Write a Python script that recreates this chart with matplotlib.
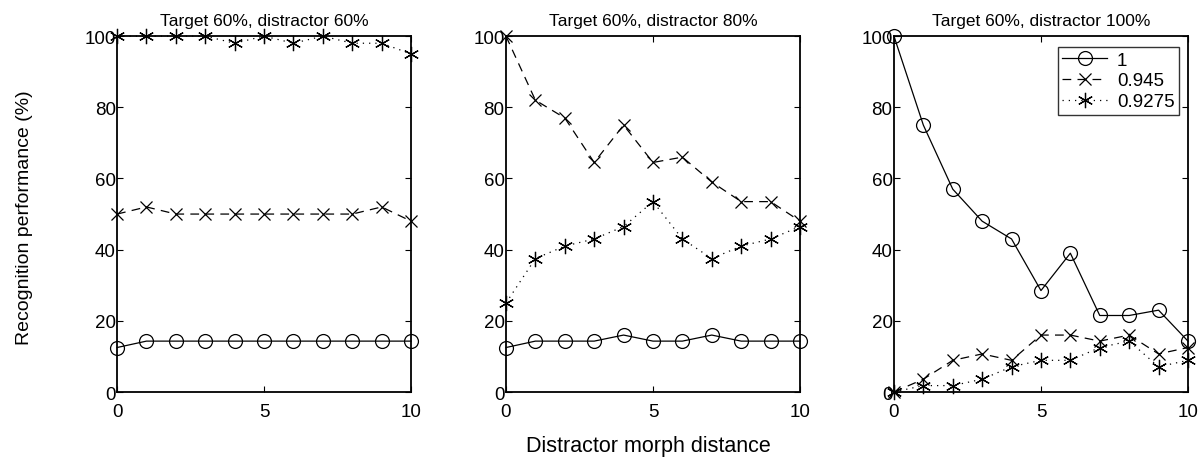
#!/usr/bin/env python3

# Recognition performance vs distractor morph distance, three panels

import matplotlib
matplotlib.use("Agg")
import matplotlib.pyplot as plt
import numpy as np

plt.rcParams["font.family"] = ["Liberation Sans", "DejaVu Sans"]

distance = np.arange(11)
series_labels = ["1", "0.945", "0.9275"]
titles = ["Target 60%, distractor 60%",
          "Target 60%, distractor 80%",
          "Target 60%, distractor 100%"]

# panel 1 : distractor 60%
p1_circle = [12.5, 14.3, 14.3, 14.3, 14.3, 14.3, 14.3, 14.3, 14.3, 14.3, 14.3]
p1_cross = [50, 52, 50, 50, 50, 50, 50, 50, 50, 52, 48]
p1_star = [100, 100, 100, 100, 98, 100, 98, 100, 98, 98, 95]

# panel 2 : distractor 80%
p2_circle = [12.5, 14.3, 14.3, 14.3, 16, 14.3, 14.3, 16, 14.3, 14.3, 14.3]
p2_cross = [100, 82, 77, 64.5, 75, 64.5, 66, 59, 53.5, 53.5, 48]
p2_star = [25, 37.5, 41, 43, 46.5, 53.5, 43, 37.5, 41, 43, 46.5]

# panel 3 : distractor 100%
p3_circle = [100, 75, 57, 48, 43, 28.5, 39, 21.5, 21.5, 23, 14.3]
p3_cross = [0, 3.6, 8.9, 10.7, 8.9, 16, 16, 14.3, 16, 10.7, 12.5]
p3_star = [0, 1.8, 1.8, 3.6, 7.1, 8.9, 8.9, 12.5, 14.3, 7.1, 8.9]

panels = [(p1_circle, p1_cross, p1_star),
          (p2_circle, p2_cross, p2_star),
          (p3_circle, p3_cross, p3_star)]

fig = plt.figure(figsize=(12.03, 4.64), dpi=100)
lefts = [0.0973, 0.4206, 0.7431]
axes_list = []
for i, left in enumerate(lefts):
    ax = fig.add_axes([left, 0.153, 0.2444, 0.767])
    circle, cross, star = panels[i]
    ax.plot(distance, circle, "k-", marker="o", markersize=10,
            markerfacecolor="none", markeredgewidth=0.9, linewidth=0.9,
            label=series_labels[0], clip_on=False)
    ax.plot(distance, cross, "k--", marker="x", markersize=9,
            markeredgewidth=0.9, linewidth=0.9, dashes=(7, 5),
            label=series_labels[1], clip_on=False)
    ax.plot(distance, star, "k:", marker=(6, 2, 0), markersize=11,
            markeredgewidth=0.9, linewidth=0.9, dashes=(1, 4),
            label=series_labels[2], clip_on=False)
    ax.set_xlim(0, 10)
    ax.set_ylim(0, 100)
    ax.set_xticks([0, 5, 10])
    ax.set_yticks([0, 20, 40, 60, 80, 100])
    ax.tick_params(direction="in", top=True, right=True, length=4,
                   width=0.8, labelsize=13.5)
    ax.tick_params(axis="x", pad=8)
    ax.tick_params(axis="y", pad=1)
    for sp in ax.spines.values():
        sp.set_linewidth(1.3)
    ax.set_title(titles[i], fontsize=12.5, pad=8)
    axes_list.append(ax)

leg = axes_list[2].legend(loc="upper right", bbox_to_anchor=(0.97, 0.97),
                          fontsize=13.5, frameon=True, fancybox=False,
                          edgecolor="black", handlelength=2.4,
                          handletextpad=0.5, borderpad=0.25,
                          labelspacing=0.2, borderaxespad=0)
leg.get_frame().set_linewidth(1.0)

fig.text(0.539, 0.037, "Distractor morph distance", ha="center",
         va="center", fontsize=15.5)
fig.text(0.02, 0.53, "Recognition performance (%)", ha="center",
         va="center", rotation=90, fontsize=14)

fig.savefig("out.png", dpi=100)
